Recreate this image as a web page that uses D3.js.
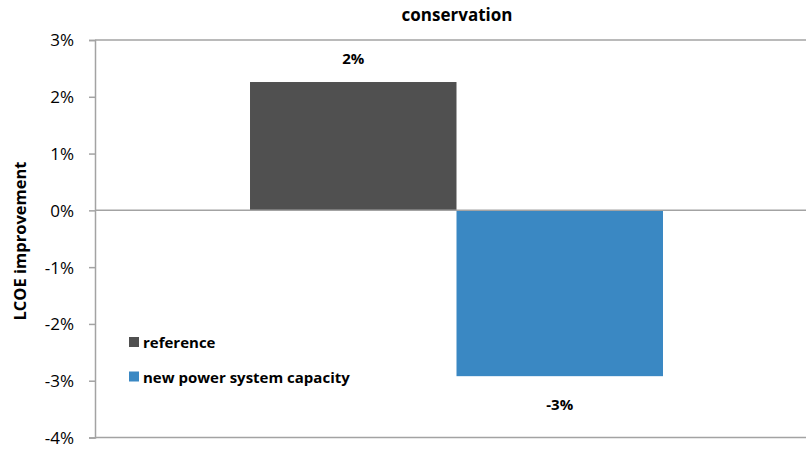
<!DOCTYPE html>
<html>
<head>
<meta charset="utf-8">
<script src="https://cdn.jsdelivr.net/npm/d3@7"></script>
<style>
  html, body { margin: 0; padding: 0; background: #fff; }
  svg { display: block; font-family: "Open Sans", Lato, sans-serif; }
</style>
</head>
<body>
<svg id="chart" width="806" height="452"></svg>
<script>
// Chart data
const title = "conservation";
const categories = ["conservation"];
const seriesNames = ["reference", "new power system capacity"];
const seriesValues = [2.26, -2.92];           // LCOE improvement, %
const valueLabels = ["2%", "-3%"];
const seriesColors = ["#505050", "#3a88c3"];
const tickValues = [3, 2, 1, 0, -1, -2, -3, -4];
const yTitle = "LCOE improvement";

const svg = d3.select("#chart");
const plot = { left: 95, right: 806, top: 40, bottom: 437.5 };

const y = d3.scaleLinear().domain([-4, 3]).range([plot.bottom, plot.top]);

// category band: one group of bars
const x0 = d3.scaleBand().domain(categories).range([102, 811]).paddingInner(0).paddingOuter(0.3584);
const x1 = d3.scaleBand().domain(seriesNames).range([0, x0.bandwidth()]).padding(0);

const axisColor = "#a3a3a3";

// frame lines: top border and bottom baseline
svg.append("line").attr("x1", plot.left).attr("x2", plot.right)
  .attr("y1", plot.top).attr("y2", plot.top)
  .attr("stroke", axisColor).attr("stroke-width", 1.5);
svg.append("line").attr("x1", plot.left).attr("x2", plot.right)
  .attr("y1", plot.bottom).attr("y2", plot.bottom)
  .attr("stroke", axisColor).attr("stroke-width", 1.5);

// bars
svg.append("g").selectAll("rect.bar").data(seriesValues).join("rect")
  .attr("class", "bar")
  .attr("x", (d, i) => x0(categories[0]) + x1(seriesNames[i]))
  .attr("width", x1.bandwidth())
  .attr("y", d => y(Math.max(0, d)))
  .attr("height", d => Math.abs(y(d) - y(0)))
  .attr("fill", (d, i) => seriesColors[i]);

// zero line
svg.append("line").attr("x1", plot.left).attr("x2", plot.right)
  .attr("y1", y(0)).attr("y2", y(0))
  .attr("stroke", axisColor).attr("stroke-width", 1.5);

// y axis
const yAxis = d3.axisLeft(y).tickValues(tickValues).tickSize(6).tickPadding(15)
  .tickFormat(d => d + "%");
const ya = svg.append("g").attr("transform", `translate(${plot.left},0)`).call(yAxis);
ya.select(".domain").attr("stroke", axisColor).attr("stroke-width", 1.5);
ya.selectAll(".tick line").attr("stroke", axisColor).attr("stroke-width", 1.5);
ya.selectAll(".tick text").attr("font-size", 17).attr("fill", "#000")
  .attr("font-family", "'Open Sans', Lato, sans-serif").attr("dy", "0.35em");

// value labels
svg.selectAll("text.vlabel").data(seriesValues).join("text")
  .attr("class", "vlabel")
  .attr("x", (d, i) => x0(categories[0]) + x1(seriesNames[i]) + x1.bandwidth() / 2)
  .attr("y", d => d >= 0 ? y(d) - 18 : y(d) + 34)
  .attr("text-anchor", "middle")
  .attr("font-size", 15).attr("font-weight", "bold").attr("fill", "#000")
  .text((d, i) => valueLabels[i]);

// title
svg.append("text").attr("x", 457).attr("y", 21)
  .attr("text-anchor", "middle").attr("font-size", 17).attr("font-weight", "bold")
  .text(title);

// y axis title
svg.append("text")
  .attr("transform", `translate(26,241) rotate(-90)`)
  .attr("text-anchor", "middle").attr("font-size", 16.5).attr("font-weight", "bold")
  .text(yTitle);

// legend
const legend = svg.append("g").attr("transform", "translate(129,337)");
const li = legend.selectAll("g").data(seriesNames).join("g")
  .attr("transform", (d, i) => `translate(0,${i * 34.5})`);
li.append("rect").attr("width", 10).attr("height", 10)
  .attr("fill", (d, i) => seriesColors[i]);
li.append("text").attr("x", 14).attr("y", 11)
  .attr("font-size", 15).attr("font-weight", "bold").text(d => d);
</script>
</body>
</html>
